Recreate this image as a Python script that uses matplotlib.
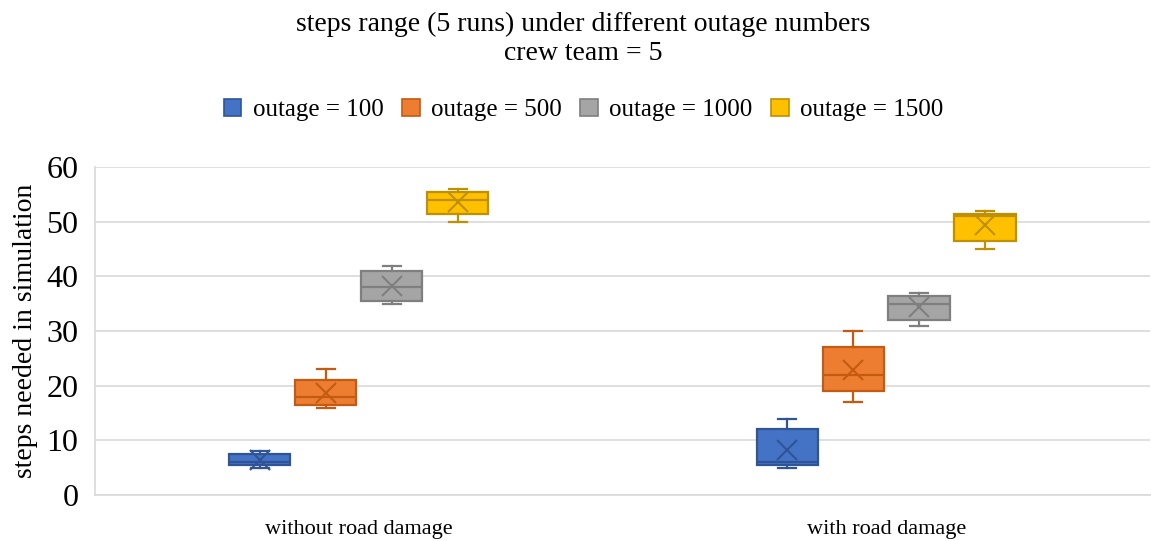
"""Box plot: steps range (5 runs) under different outage numbers, crew team = 5."""

import matplotlib

matplotlib.use("Agg")
import matplotlib.pyplot as plt
import numpy as np
from matplotlib.patches import Patch

plt.rcParams["font.family"] = ["Liberation Serif", "DejaVu Serif"]

categories = ["without road damage", "with road damage"]
series_labels = ["outage = 100", "outage = 500", "outage = 1000", "outage = 1500"]

# steps needed in each of the 5 runs, per scenario
runs_without = [
    [5, 6, 6, 7, 8],
    [16, 17, 18, 19, 23],
    [35, 36, 38, 40, 42],
    [50, 53, 54, 55, 56],
]
runs_with = [
    [5, 6, 6, 10, 14],
    [17, 21, 22, 24, 30],
    [31, 33, 35, 36, 37],
    [45, 48, 51, 51, 52],
]

face_colors = ["#4472C4", "#ED7D31", "#A5A5A5", "#FFC000"]
edge_colors = ["#2F5597", "#C55A11", "#7F7F7F", "#BF9000"]


def box_stats(values):
    # Excel-style exclusive quartiles, whiskers at min/max
    v = np.asarray(values, dtype=float)
    q1, med, q3 = np.percentile(v, [25, 50, 75], method="weibull")
    return {
        "whislo": v.min(),
        "q1": q1,
        "med": med,
        "q3": q3,
        "whishi": v.max(),
        "mean": v.mean(),
        "fliers": [],
    }


fig = plt.figure(figsize=(11.51, 5.41), dpi=100)
ax = fig.add_axes([0.0825, 0.085, 0.9165, 0.606])

offsets = (np.arange(4) - 1.5) * 0.125
box_width = 0.116

for s_idx in range(4):
    data = [runs_without[s_idx], runs_with[s_idx]]
    stats = [box_stats(d) for d in data]
    positions = np.arange(len(categories)) + offsets[s_idx]
    ec = edge_colors[s_idx]
    ax.bxp(
        stats,
        positions=positions,
        widths=box_width,
        capwidths=0.034,
        patch_artist=True,
        showmeans=True,
        showfliers=False,
        boxprops=dict(facecolor=face_colors[s_idx], edgecolor=ec, linewidth=1.6),
        medianprops=dict(color=ec, linewidth=1.6),
        whiskerprops=dict(color=ec, linewidth=1.6),
        capprops=dict(color=ec, linewidth=1.6),
        meanprops=dict(
            marker="x", markersize=14, markeredgecolor=ec, markeredgewidth=1.5
        ),
        zorder=3,
    )

ax.set_xlim(-0.5, 1.5)
ax.set_ylim(0, 60)
ax.set_xticks(np.arange(len(categories)))
ax.set_xticklabels(categories, fontsize=16)
ax.set_yticks(np.arange(0, 61, 10))
ax.tick_params(axis="y", labelsize=23, length=0, pad=12)
ax.tick_params(axis="x", length=0, pad=18)
ax.set_ylabel("steps needed in simulation", fontsize=20, labelpad=6)

ax.grid(axis="y", color="#D9D9D9", linewidth=1.2, zorder=0)
ax.set_axisbelow(True)
for side in ["top", "right"]:
    ax.spines[side].set_visible(False)
for side in ["left", "bottom"]:
    ax.spines[side].set_color("#D9D9D9")
    ax.spines[side].set_linewidth(1.2)

fig.text(
    0.507,
    0.928,
    "steps range (5 runs) under different outage numbers\ncrew team = 5",
    ha="center",
    va="center",
    fontsize=20,
    linespacing=1.22,
)

handles = [
    Patch(facecolor=fc, edgecolor=ec, linewidth=1.2)
    for fc, ec in zip(face_colors, edge_colors)
]
fig.legend(
    handles,
    series_labels,
    loc="center",
    bbox_to_anchor=(0.507, 0.797),
    ncol=4,
    frameon=False,
    fontsize=18,
    handlelength=0.7,
    handleheight=0.7,
    handletextpad=0.45,
    columnspacing=0.75,
)

fig.savefig("out.png", dpi=100)
